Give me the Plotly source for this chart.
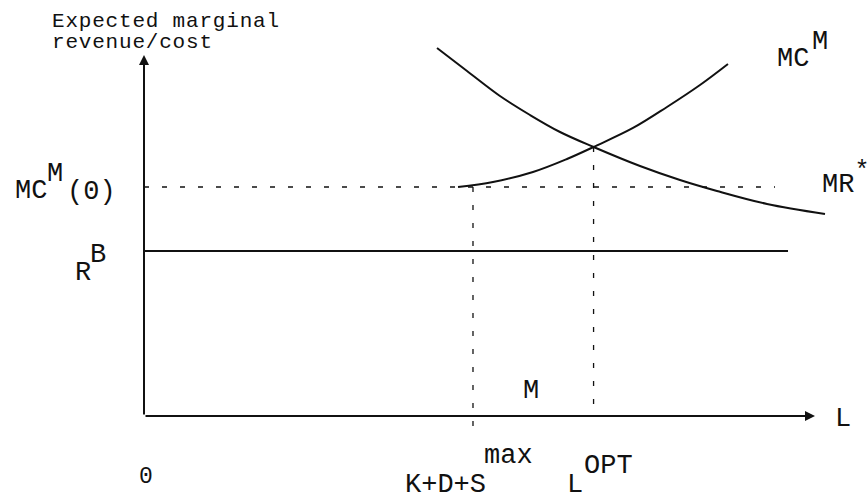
import plotly.graph_objects as go

# ---- data (arbitrary diagram units) ----
L_MR = [43.67, 48.14, 53.05, 57.53, 62.00, 67.00, 73.92, 79.88, 85.39, 92.85, 101.49]
MR_STAR = [101.94, 95.57, 88.64, 83.38, 78.67, 74.52, 69.25, 65.37, 62.33, 58.73, 55.96]

L_MC = [46.80, 52.01, 57.97, 63.04, 67.00, 72.88, 77.94, 82.86, 87.03]
MC_M = [63.43, 64.82, 67.59, 71.19, 74.52, 79.78, 85.60, 91.69, 97.51]

MC0_LEVEL = 63.43          # MC^M(0)
MC0_END = 94.04
RB_LEVEL = 45.71           # R^B
RB_END = 95.98
L_KDS = 49.03              # K+D+S max
KDS_BOTTOM = -4.71
L_OPT = 67.00              # L^OPT
OPT_TOP = 74.52
AXIS_X_MAX = 100
AXIS_Y_MAX = 100

X_RANGE = [-21.46, 107.75]
Y_RANGE = [-21.88, 115.23]

FONT = "Liberation Mono, Courier New, monospace"
INK = "#111111"

fig = go.Figure()

# curves
fig.add_trace(go.Scatter(x=L_MR, y=MR_STAR, mode="lines", line=dict(color=INK, width=2, shape="spline"),
                         hoverinfo="skip", showlegend=False))
fig.add_trace(go.Scatter(x=L_MC, y=MC_M, mode="lines", line=dict(color=INK, width=2, shape="spline"),
                         hoverinfo="skip", showlegend=False))
# R^B solid horizontal
fig.add_trace(go.Scatter(x=[0, RB_END], y=[RB_LEVEL, RB_LEVEL], mode="lines", line=dict(color=INK, width=2),
                         hoverinfo="skip", showlegend=False))
# dashed guides
dash = "5px,13px"
fig.add_trace(go.Scatter(x=[0, MC0_END], y=[MC0_LEVEL, MC0_LEVEL], mode="lines",
                         line=dict(color=INK, width=1.3, dash=dash), hoverinfo="skip", showlegend=False))
fig.add_trace(go.Scatter(x=[L_KDS, L_KDS], y=[MC0_LEVEL, KDS_BOTTOM], mode="lines",
                         line=dict(color=INK, width=1.3, dash=dash), hoverinfo="skip", showlegend=False))
fig.add_trace(go.Scatter(x=[L_OPT, L_OPT], y=[OPT_TOP, 0], mode="lines",
                         line=dict(color=INK, width=1.3, dash=dash), hoverinfo="skip", showlegend=False))

# axes with arrows
for (x0, y0, x1, y1) in [(0, 0, 0, AXIS_Y_MAX), (0, 0, AXIS_X_MAX, 0)]:
    fig.add_annotation(x=x1, y=y1, ax=x0, ay=y0, xref="x", yref="y", axref="x", ayref="y",
                       text="", showarrow=True, arrowhead=2, arrowsize=1, arrowwidth=2,
                       arrowcolor=INK, standoff=0, startstandoff=0)

# text labels: (text, x, y, size, xanchor)
LABELS = [
    ("Expected marginal", -14.0, 109.3, 21, "left"),
    ("revenue/cost", -14.0, 103.5, 21, "left"),
    ("MC", -16.8, 62.3, 27, "center"),
    ("M", -13.2, 67.0, 27, "center"),
    ("(0)", -7.8, 62.0, 27, "center"),
    ("R", -9.1, 39.75, 27, "center"),
    ("B", -6.9, 44.6, 27, "center"),
    ("MC", 96.7, 99.0, 27, "center"),
    ("M", 100.8, 103.5, 27, "center"),
    ("MR", 103.5, 64.0, 27, "center"),
    ("M", 57.7, 7.06, 27, "center"),
    ("L", 104.2, -0.7, 27, "center"),
    ("0", 0.37, -17.0, 23, "center"),
    ("K+D+S", 44.9, -19.0, 27, "center"),
    ("max", 54.3, -11.1, 27, "center"),
    ("L", 64.3, -19.1, 27, "center"),
    ("OPT", 69.2, -13.85, 27, "center"),
]
for text, x, y, size, xa in LABELS:
    t = text
    if size == 21:
        t = '<span style="letter-spacing:0.8px">' + text + "</span>"
    fig.add_annotation(x=x, y=y, xref="x", yref="y", text=t, showarrow=False,
                       xanchor=xa, yanchor="middle", font=dict(family=FONT, size=size, color=INK))

# the asterisk of MR* sits at the very right edge: a text trace that is not clipped
STAR_X = [107.0]
STAR_Y = [67.6]
fig.add_trace(go.Scatter(x=STAR_X, y=STAR_Y, mode="text", text=["*"], textposition="middle center",
                         textfont=dict(family=FONT, size=25, color=INK), cliponaxis=False,
                         hoverinfo="skip", showlegend=False))

fig.update_xaxes(range=X_RANGE, visible=False, fixedrange=True)
fig.update_yaxes(range=Y_RANGE, visible=False, fixedrange=True)
fig.update_layout(width=867, height=495, margin=dict(l=0, r=0, t=0, b=0),
                  paper_bgcolor="white", plot_bgcolor="white", showlegend=False)

fig.write_html("out.html", config={"displayModeBar": False},
               post_script="document.body.style.margin='0';document.body.style.overflow='hidden';")
